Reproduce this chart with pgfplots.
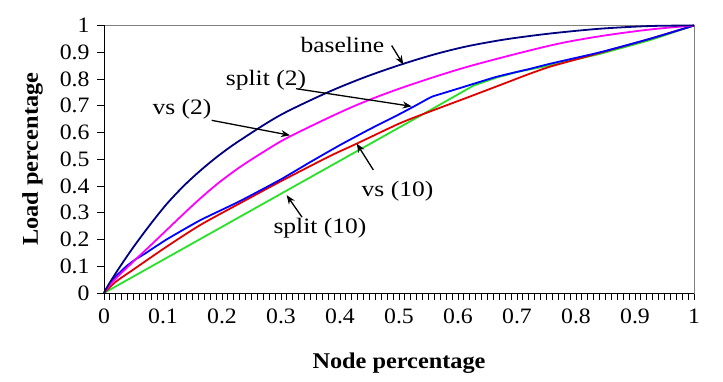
\documentclass[border=0pt]{standalone}
\usepackage{fontspec}
\setmainfont{Liberation Serif}[FakeStretch=1.08]
\newfontfamily\annfont{Liberation Serif}[FakeStretch=1.16]
\usepackage{pgfplots}
\usepackage{pgfplotstable}
\pgfplotsset{compat=1.18}
\usetikzlibrary{arrows.meta}
\definecolor{cnavy}{RGB}{0,0,128}
\definecolor{cmag}{RGB}{255,0,255}
\definecolor{cblue}{RGB}{0,0,255}
\definecolor{cred}{RGB}{225,0,0}
\definecolor{cgreen}{RGB}{40,225,40}

\pgfplotstableread{
x y
0 0
0.005 0.021
0.013 0.05
0.027 0.098
0.05 0.172
0.078 0.255
0.106 0.332
0.135 0.40
0.163 0.457
0.195 0.515
0.23 0.57
0.298 0.664
0.377 0.748
0.44 0.805
0.502 0.853
0.56 0.892
0.615 0.922
0.68 0.948
0.756 0.970
0.841 0.988
0.925 0.998
1 1
}\baseline

\pgfplotstableread{
x y
0 0
0.01 0.03
0.025 0.065
0.05 0.118
0.078 0.176
0.106 0.235
0.135 0.296
0.163 0.353
0.195 0.413
0.23 0.47
0.27 0.527
0.315 0.585
0.417 0.692
0.502 0.765
0.615 0.845
0.756 0.925
0.841 0.96
0.925 0.985
1 1
}\vstwo

\pgfplotstableread{
x y
0 0
0.01 0.035
0.02 0.062
0.038 0.10
0.053 0.125
0.07 0.148
0.106 0.20
0.163 0.272
0.23 0.343
0.30 0.425
0.35 0.49
0.40 0.553
0.45 0.612
0.502 0.67
0.53 0.703
0.555 0.733
0.575 0.747
0.609 0.77
0.665 0.808
0.722 0.838
0.756 0.857
0.841 0.90
0.925 0.95
1 1
}\splittwo

\pgfplotstableread{
x y
0 0
0.02 0.042
0.05 0.088
0.106 0.173
0.163 0.254
0.23 0.335
0.30 0.418
0.383 0.512
0.428 0.558
0.502 0.635
0.558 0.683
0.615 0.73
0.671 0.777
0.722 0.82
0.756 0.846
0.80 0.873
0.841 0.898
0.925 0.95
1 1
}\vsten

\pgfplotstableread{
x y
0 0
0.30 0.371
0.55 0.68
0.586 0.725
0.626 0.775
0.665 0.805
0.70 0.826
0.756 0.851
0.841 0.894
0.925 0.945
1 1
}\splitten

\begin{document}
\begin{tikzpicture}
\begin{axis}[
  at={(104pt,-293pt)}, anchor=south west,
  width=590pt, height=267.5pt, scale only axis,
  xmin=0, xmax=1, ymin=0, ymax=1,
  xtick={0,0.1,...,1}, ytick={0,0.1,...,1},
  minor x tick num=9,
  tick pos=left, tick align=outside,
  major tick length=7pt, minor tick length=7pt,
  tick style={black, line width=0.9pt},
  axis line style={draw=gray, line width=0.9pt},
  /pgf/number format/assume math mode=true,
  /pgf/number format/fixed, /pgf/number format/precision=1,
  xticklabel={\pgfmathprintnumber{\tick}},
  yticklabel={\pgfmathprintnumber{\tick}},
  tick label style={font=\fontsize{22}{26}\selectfont},
  xticklabel style={yshift=-5pt},
  yticklabel style={xshift=-4pt},
  xlabel={Node percentage}, ylabel={Load percentage},
  label style={font=\bfseries\fontsize{22.5}{27}\selectfont},
  xlabel style={at={(axis description cs:0.5,-0.2804)}, anchor=base},
  ylabel style={at={(axis description cs:-0.1212,0.5)}, anchor=center},
  clip=false,
  every axis plot/.append style={line width=1.8pt, no marks},
]
\addplot[cgreen] table[x=x,y=y] {\splitten};
\addplot[cred, smooth, tension=0.4] table[x=x,y=y] {\vsten};
\addplot[cblue, smooth, tension=0.3] table[x=x,y=y] {\splittwo};
\addplot[cmag, smooth, tension=0.5] table[x=x,y=y] {\vstwo};
\addplot[cnavy, smooth, tension=0.5] table[x=x,y=y] {\baseline};

\draw[black, line width=0.9pt] (rel axis cs:0,1) -- (rel axis cs:0,0) -- (rel axis cs:1,0);

\begin{scope}[every node/.style={font=\annfont\fontsize{22}{26}\selectfont, inner sep=0pt, anchor=base}]
\node at (axis cs:0.404,0.900) {baseline};
\node at (axis cs:0.2746,0.776) {split (2)};
\node at (axis cs:0.1322,0.668) {vs (2)};
\node at (axis cs:0.4975,0.362) {vs (10)};
\node at (axis cs:0.366,0.224) {split (10)};
\end{scope}
\begin{scope}[line width=1.3pt, -{Stealth[length=9pt,width=7pt]}]
\draw (axis cs:0.4876,0.925) -- (axis cs:0.5073,0.854);
\draw (axis cs:0.3254,0.7638) -- (axis cs:0.5215,0.6978);
\draw (axis cs:0.1825,0.6455) -- (axis cs:0.3153,0.5896);
\draw (axis cs:0.4565,0.46) -- (axis cs:0.4283,0.5586);
\draw (axis cs:0.3356,0.2836) -- (axis cs:0.3096,0.3657);
\end{scope}
\end{axis}
\pgfresetboundingbox
\path[use as bounding box] (0,0) rectangle (723pt,-382pt);
\end{tikzpicture}
\end{document}
